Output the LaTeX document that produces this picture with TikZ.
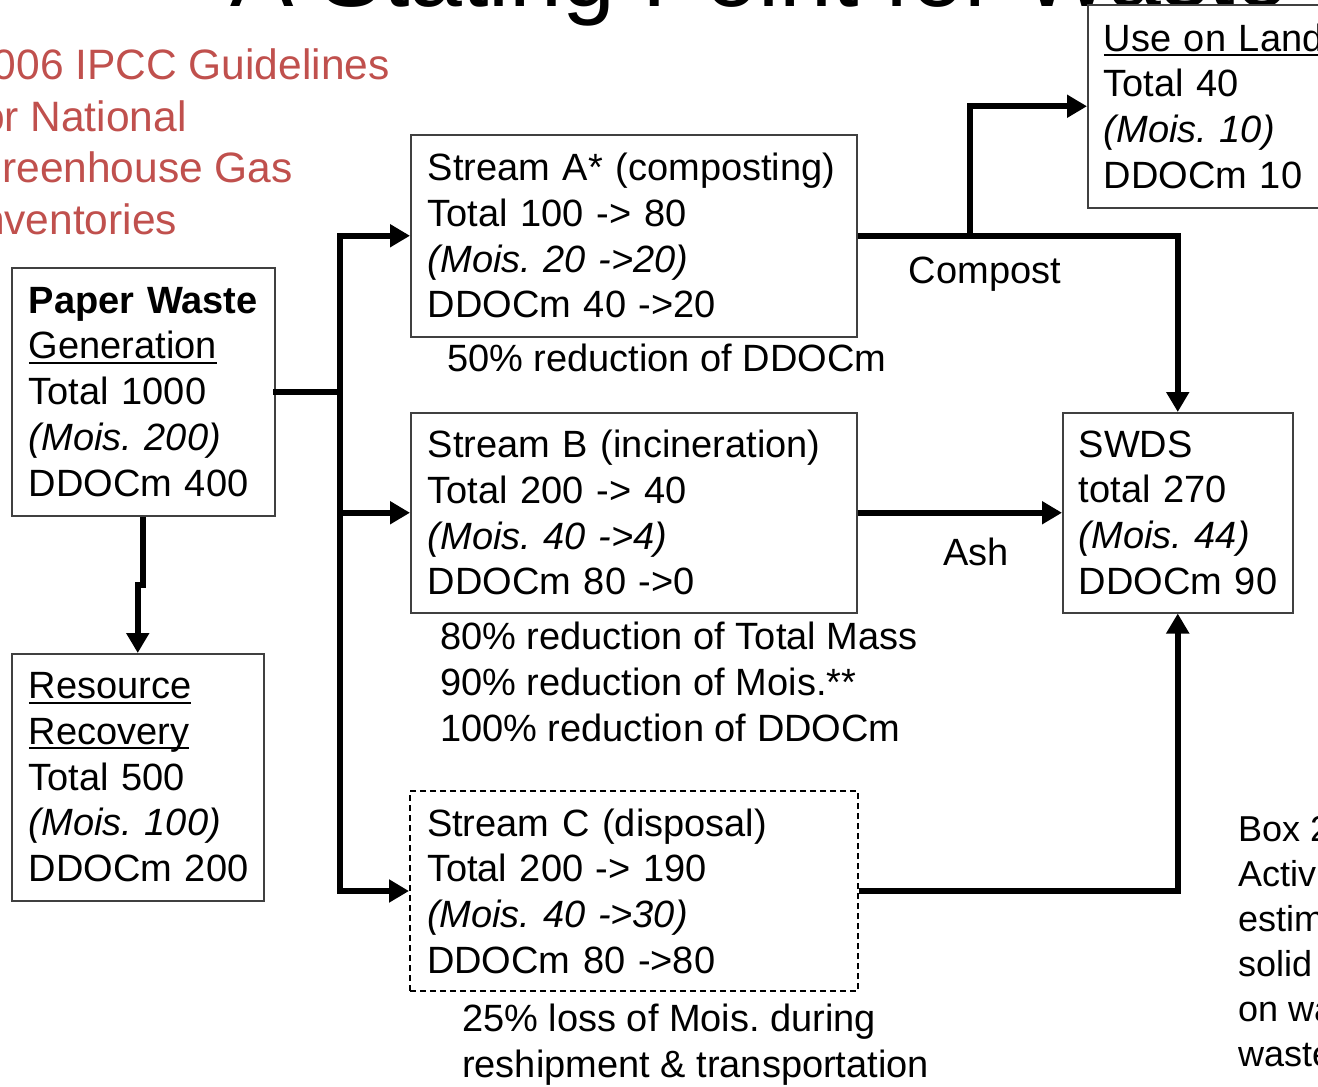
\documentclass[tikz,border=0pt]{standalone}
\usepackage{fontspec}
\setmainfont{Liberation Sans}
\usetikzlibrary{arrows.meta}
\frenchspacing
\definecolor{ipccred}{HTML}{C0504D}
\newcommand\boxfont{\fontsize{38}{45.7}\selectfont}
\newcommand\redfont{\fontsize{42.5}{51.5}\selectfont}
\newcommand\sidefont{\fontsize{36}{45}\selectfont}
\newcommand\titlefont{\fontsize{95}{110}\selectfont}
\newcommand\myul[1]{\setbox0\hbox{#1}\leavevmode\rlap{\rule[-5pt]{\wd0}{2pt}}\box0}
\tikzset{
  box/.style={draw=black!75, fill=white, line width=1.5pt, rectangle, inner xsep=17pt, inner ysep=0pt,
    align=left, font=\boxfont, anchor=north west},
  dashbox/.style={box, draw=black, dash pattern=on 6pt off 4pt, line width=2pt},
  conn/.style={line width=6pt, line join=miter, -{Triangle[length=20pt,width=22pt]}},
  trunk/.style={line width=6pt, line cap=rect},
  plain/.style={inner sep=0pt, align=left, font=\boxfont},
}
\begin{document}
\begin{tikzpicture}[x=1pt,y=-1pt]
\useasboundingbox (0,0) rectangle (1318,1087);
\fill[white] (0,0) rectangle (1318,1087);
\clip (0,0) rectangle (1318,1087);

% title (cut off at top)
\node[anchor=base west, inner sep=0pt, font=\titlefont] (title) at (230,6) {A Stating Point for Waste};

% red guideline text (cut at left)
\node[anchor=west, inner sep=0pt, align=left, font=\redfont, text=ipccred] (ipcc) at (-31,142)
  {2006 IPCC Guidelines\\for National\\Greenhouse Gas\\Inventories};

% side text (cut at right)
\node[anchor=west, inner sep=0pt, align=left, font=\sidefont] (box2) at (1238,942)
  {Box 2.1\\Activity\\estimation\\solid\\on waste\\waste};

% boxes
\node[box, text width=229pt, minimum height=248pt] (pw) at (11,267)
  {\textbf{Paper~Waste}\\\myul{Generation}\\Total~1000\\\textit{(Mois.~200)}\\DDOCm~400};
\node[box, text width=218pt, minimum height=247pt] (rr) at (11,653)
  {\myul{Resource}\\\myul{Recovery}\\Total~500\\\textit{(Mois.~100)}\\DDOCm~200};
\node[box, text width=412pt, minimum height=202pt] (sa) at (410,134)
  {Stream A* (composting)\\Total 100 -> 80\\\textit{(Mois. 20 ->20)}\\DDOCm 40 ->20};
\node[box, text width=412pt, minimum height=200pt] (sb) at (410,412)
  {Stream B (incineration)\\Total 200 -> 40\\\textit{(Mois. 40 ->4)}\\DDOCm 80 ->0};
\node[dashbox, text width=414pt, minimum height=200pt] (sc) at (409,790)
  {Stream C (disposal)\\Total 200 -> 190\\\textit{(Mois. 40 ->30)}\\DDOCm 80 ->80};
\node[box, inner xsep=16pt, text width=198pt, minimum height=200pt] (sw) at (1062,412)
  {SWDS\\total~270\\\textit{(Mois.~44)}\\DDOCm~90};
\node[box, inner xsep=16pt, text width=230pt, minimum height=203pt] (ul) at (1087,4)
  {\myul{Use~on~Land}\\Total~40\\\textit{(Mois.~10)}\\DDOCm~10};

% annotations
\node[plain, anchor=west] (na) at (447,358) {50\% reduction of DDOCm};
\node[plain, anchor=west] (nb) at (440,682)
  {80\% reduction of Total Mass\\90\% reduction of Mois.**\\100\% reduction of DDOCm};
\node[plain, anchor=west] (nc) at (462,1045)
  {25\% loss of Mois. during\\reshipment \& transportation};
\node[plain] (compost) at (985,274) {Compost};
\node[plain] (ash) at (976,552) {Ash};

% connectors
\coordinate (j) at (340,389);
\coordinate (cj) at (970,235);
\draw[trunk] (pw.east) -- (pw.east -| j);
\draw[trunk] (sa.west -| j) -- (sc.west -| j);
\draw[conn] (sa.west -| j) -- (sa.west);
\draw[conn] (sb.west -| j) -- (sb.west);
\draw[conn] (sc.west -| j) -- (sc.west);
\draw[conn] (pw.south) -- ++(0,68) -| (rr.north);
\draw[conn] (sa.east) -| (sw.north);
\draw[conn] (cj) |- (ul.west);
\draw[conn] (sb.east) -- (sb.east -| sw.west);
\draw[conn] (sc.east) -| (sw.south);
\end{tikzpicture}
\end{document}
